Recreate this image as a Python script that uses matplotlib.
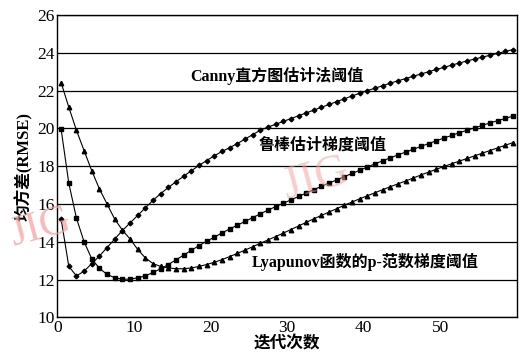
import numpy as np
import matplotlib
matplotlib.use("Agg")
import matplotlib.pyplot as plt

# iteration positions (markers sit between integer ticks)
iters = np.arange(60) + 0.5

canny = [15.2, 12.7, 12.2, 12.45, 12.85, 13.25, 13.7, 14.15, 14.6, 15.0,
         15.4, 15.8, 16.2, 16.55, 16.88, 17.18, 17.47, 17.76, 18.04, 18.3,
         18.55, 18.78, 18.98, 19.2, 19.43, 19.67, 19.9, 20.07, 20.22, 20.37,
         20.52, 20.67, 20.82, 20.97, 21.12, 21.27, 21.42, 21.57, 21.72, 21.86,
         22.0, 22.13, 22.26, 22.4, 22.52, 22.64, 22.76, 22.88, 23.0, 23.12,
         23.23, 23.35, 23.46, 23.57, 23.67, 23.77, 23.87, 23.97, 24.07, 24.17]

robust = [19.95, 17.1, 15.25, 14.0, 13.1, 12.6, 12.28, 12.1, 12.02, 12.03,
          12.1, 12.2, 12.38, 12.58, 12.8, 13.05, 13.3, 13.55, 13.8, 14.03,
          14.25, 14.47, 14.68, 14.88, 15.08, 15.28, 15.48, 15.68, 15.86, 16.04,
          16.22, 16.4, 16.58, 16.76, 16.94, 17.11, 17.28, 17.45, 17.62, 17.79,
          17.96, 18.13, 18.29, 18.45, 18.6, 18.75, 18.9, 19.05, 19.2, 19.35,
          19.49, 19.63, 19.77, 19.9, 20.03, 20.16, 20.29, 20.41, 20.53, 20.65]

lyapunov = [22.42, 21.12, 19.9, 18.82, 17.76, 16.8, 16.0, 15.2, 14.62, 14.15,
            13.6, 13.15, 12.85, 12.7, 12.62, 12.58, 12.58, 12.62, 12.7, 12.8,
            12.92, 13.06, 13.22, 13.39, 13.56, 13.74, 13.92, 14.1, 14.28, 14.46,
            14.65, 14.84, 15.03, 15.22, 15.4, 15.58, 15.76, 15.94, 16.11, 16.28,
            16.44, 16.6, 16.76, 16.92, 17.07, 17.22, 17.38, 17.54, 17.69, 17.84,
            17.99, 18.13, 18.27, 18.41, 18.55, 18.69, 18.83, 18.97, 19.11, 19.25]

xticks = [0, 10, 20, 30, 40, 50]
yticks = [10, 12, 14, 16, 18, 20, 22, 24, 26]

labels = ["Canny直方图估计法阈值", "鲁棒估计梯度阈值", "Lyapunov函数的p-范数梯度阈值"]

FAM = ["Liberation Serif", "Noto Sans CJK SC"]

fig = plt.figure(figsize=(5.23, 3.53), dpi=100)
ax = fig.add_axes([0.1096, 0.1006, 0.8784, 0.8569])

for yv in yticks:
    ax.axhline(yv, color="black", lw=0.9, zorder=1)

ax.plot(iters, canny, color="black", lw=0.8, marker="D", ms=2.4, zorder=3)
ax.plot(iters, robust, color="black", lw=0.8, marker="s", ms=3.0, zorder=3)
ax.plot(iters, lyapunov, color="black", lw=0.8, marker="^", ms=3.2, zorder=3)

ax.set_xlim(0, 60)
ax.set_ylim(10, 26)
ax.set_xticks(xticks)
ax.set_yticks(yticks)
ax.tick_params(length=0, labelsize=12.5, pad=2)
for lab in ax.get_xticklabels() + ax.get_yticklabels():
    lab.set_family(FAM)
for s in ax.spines.values():
    s.set_linewidth(1.0)

ax.text(28.7, 22.8, labels[0], ha="center", va="center", fontsize=11.5,
        family=FAM, fontweight="bold", zorder=4)
ax.text(34.7, 19.1, labels[1], ha="center", va="center", fontsize=11.5,
        family=FAM, fontweight="bold", zorder=4)
ax.text(40.2, 12.95, labels[2], ha="center", va="center", fontsize=11.5,
        family=FAM, fontweight="bold", zorder=4)

ax.set_ylabel("均方差(RMSE)", family=FAM, fontsize=12, fontweight="bold", labelpad=3)
ax.set_xlabel("迭代次数", family=FAM, fontsize=12, fontweight="bold", labelpad=0)

# pink watermark
fig.text(0.078, 0.355, "JIG", color="#f5a3a3", fontsize=31, family="Liberation Serif",
         rotation=15, ha="center", va="center", alpha=0.75, zorder=0)
fig.text(0.605, 0.49, "JIG", color="#f5a3a3", fontsize=33, family="Liberation Serif",
         rotation=15, ha="center", va="center", alpha=0.55, zorder=0)

fig.savefig("out.png", dpi=100)
